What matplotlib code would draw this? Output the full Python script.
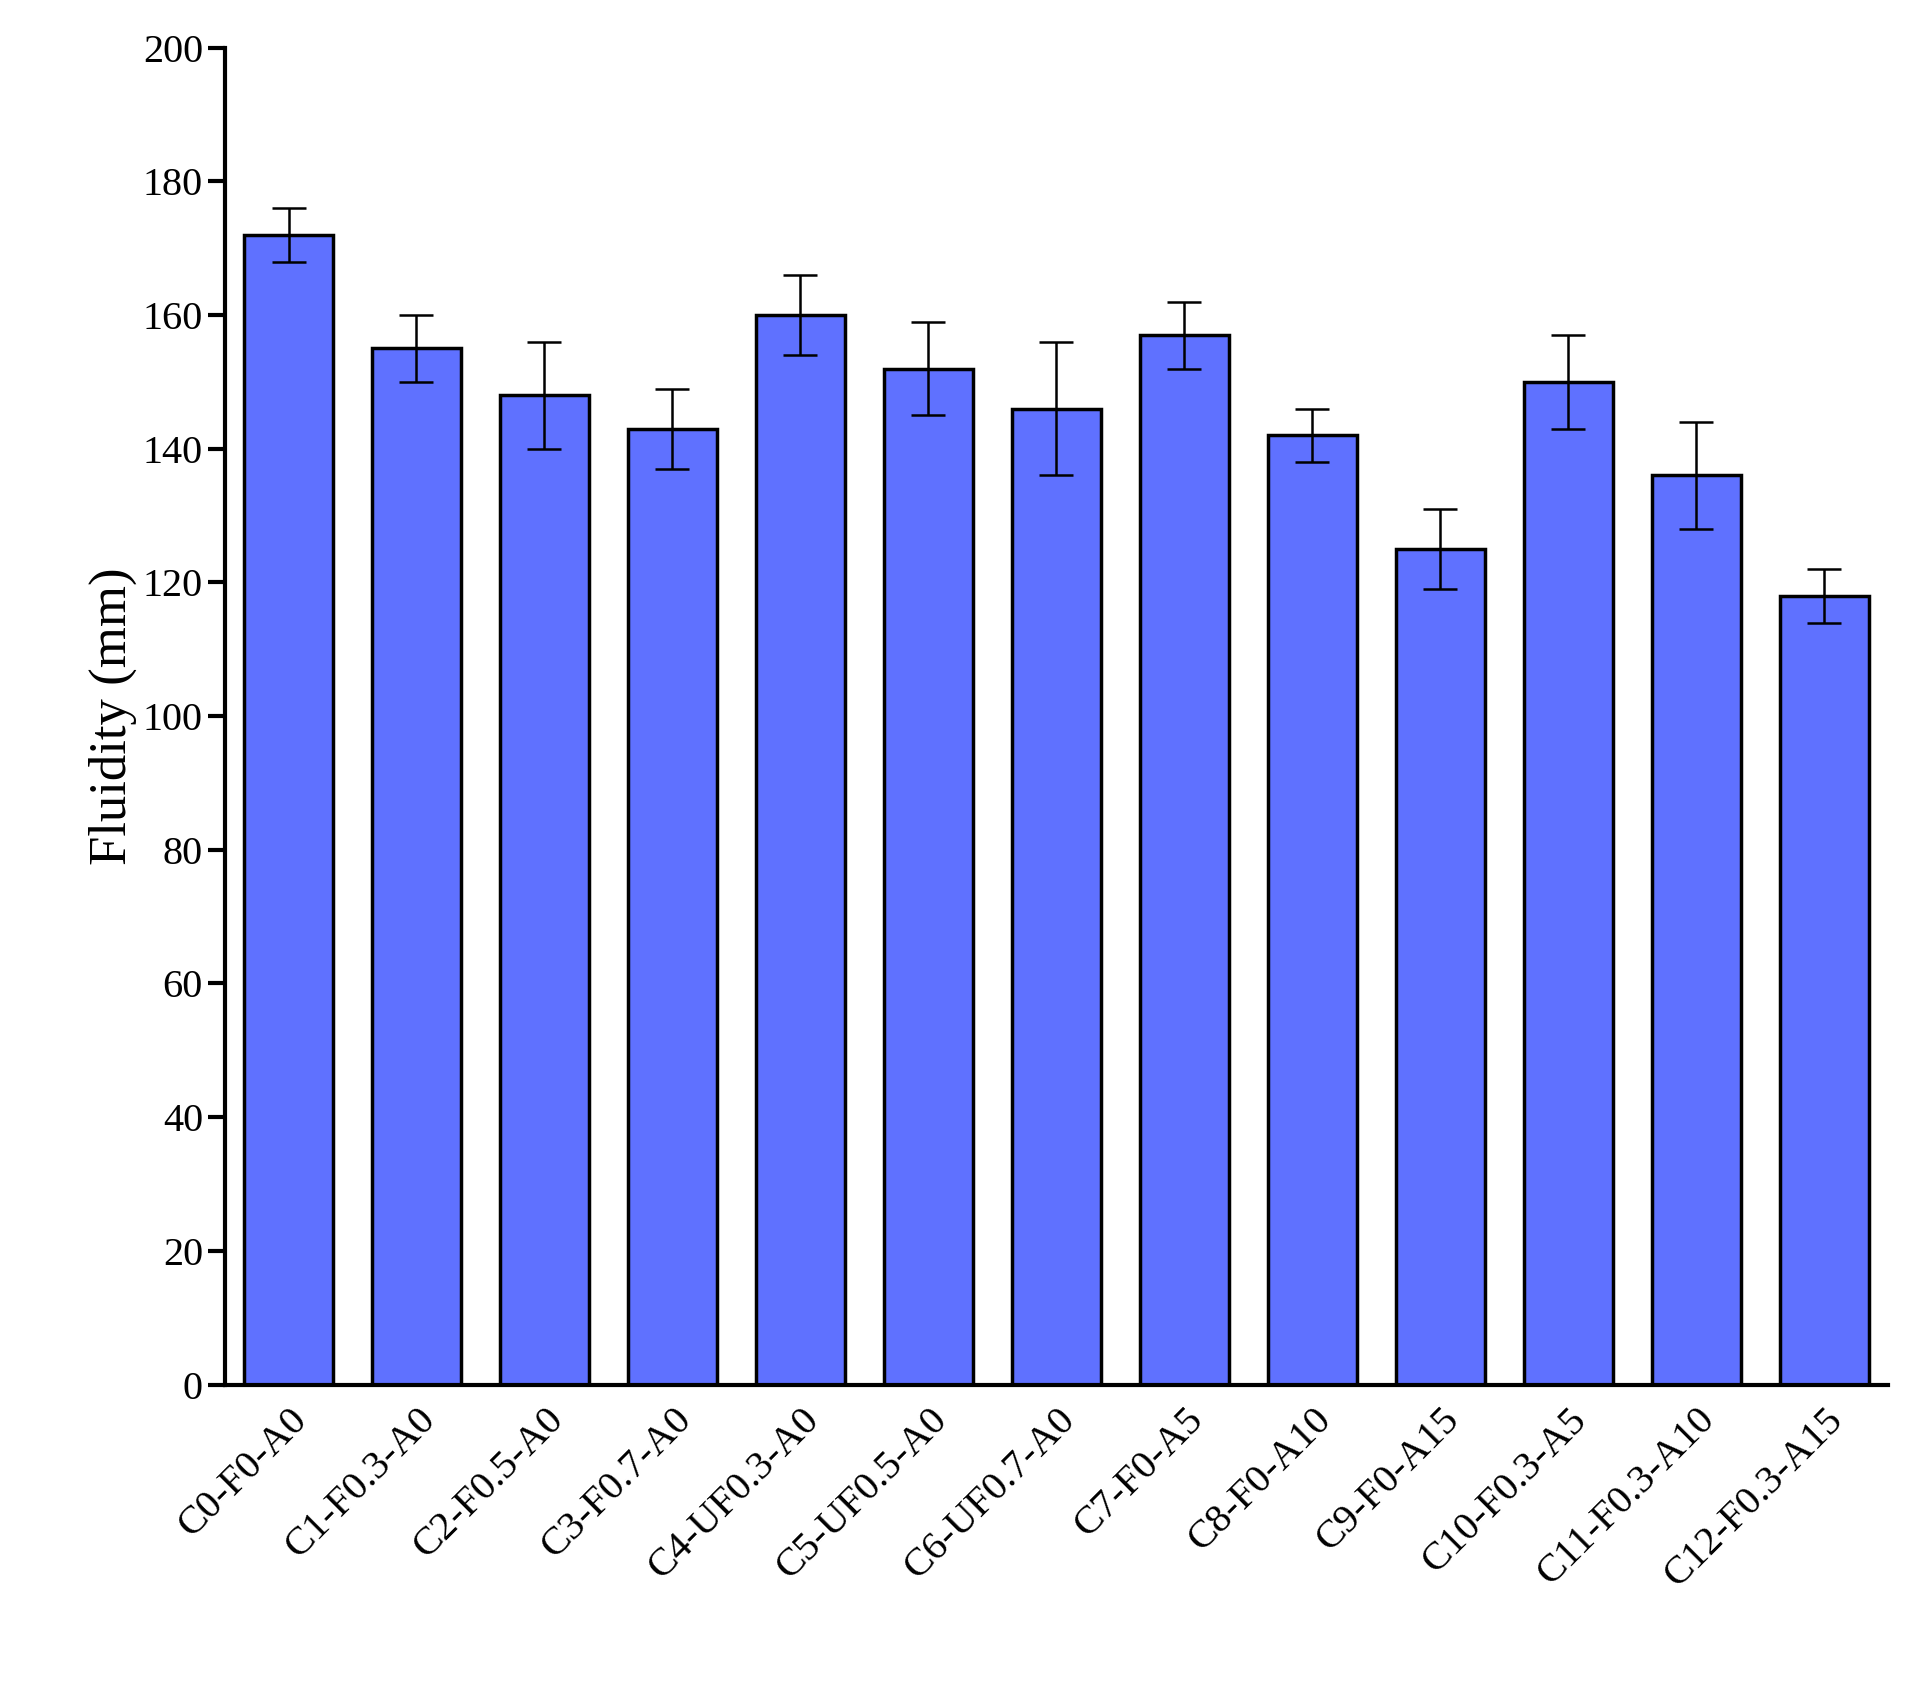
import matplotlib
matplotlib.use("Agg")
import matplotlib.pyplot as plt

categories = ["C0-F0-A0","C1-F0.3-A0","C2-F0.5-A0","C3-F0.7-A0","C4-UF0.3-A0","C5-UF0.5-A0",
              "C6-UF0.7-A0","C7-F0-A5","C8-F0-A10","C9-F0-A15","C10-F0.3-A5","C11-F0.3-A10","C12-F0.3-A15"]
values = [172,155,148,143,160,152,146,157,142,125,150,136,118]
errors = [4,5,8,6,6,7,10,5,4,6,7,8,4]

plt.rcParams['font.family'] = ['Liberation Serif', 'DejaVu Serif']
fig = plt.figure(figsize=(19.19,17.03), dpi=100)
ax = fig.add_axes([0.117,0.187,0.867,0.785])
x = range(len(categories))
ax.bar(x, values, width=0.7, color='#5f71ff', edgecolor='black', linewidth=2.5,
       yerr=errors, error_kw=dict(ecolor='black', elinewidth=1.8, capsize=12, capthick=1.8), zorder=2)
ax.set_xlim(-0.5, 12.5)
ax.set_ylim(0, 200)
ax.set_yticks(range(0,201,20))
ax.set_xticks(list(x))
ax.set_xticklabels(categories, rotation=45, ha='right', rotation_mode='anchor')
ax.tick_params(axis='x', length=0, labelsize=29, pad=12)
ax.tick_params(axis='y', direction='out', length=12, width=3, labelsize=29)
for s in ['top','right']:
    ax.spines[s].set_visible(False)
for s in ['left','bottom']:
    ax.spines[s].set_linewidth(3)
ax.set_ylabel("Fluidity (mm)", fontsize=38)
fig.savefig("out.png", dpi=100)
